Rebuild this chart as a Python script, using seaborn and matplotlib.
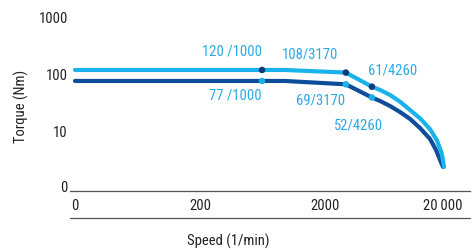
import numpy as np
import pandas as pd
import matplotlib
matplotlib.use("Agg")
import matplotlib.pyplot as plt
from matplotlib import font_manager
from matplotlib.lines import Line2D
from matplotlib.transforms import ScaledTranslation
import seaborn as sns

# ---------------- data ----------------
speed_upper = [20, 957, 2936, 4743, 5510, 6623, 7962, 9571, 11510, 13840, 15660, 17170, 17910]
torque_upper = [121, 121, 109, 61.8, 54.2, 44.3, 33.8, 24.2, 17.3, 11.2, 7.25, 4.25, 2.45]
speed_lower = [20, 957, 2936, 4743, 5510, 6623, 7962, 9571, 11510, 13840, 15450, 16640, 17580]
torque_lower = [77.8, 77.8, 68, 40, 34.8, 28.4, 22.3, 16.9, 11.7, 7.55, 4.85, 3.24, 2.45]

marker_speed = [627, 2936, 4743]
marker_torque_upper = [121, 109, 61.8]
marker_torque_lower = [77.8, 68, 40]

label_speed = [1000, 3170, 4260]
label_torque_upper = [120, 108, 61]
label_torque_lower = [77, 69, 52]

x_ticks = [20, 200, 2000, 20000]
x_ticklabels = ["0", "200", "2000", "20\u2009000"]
y_ticks = [1, 10, 100, 1000]
y_ticklabels = ["0", "10", "100", "1000"]

LIGHT = "#1ab2ea"
DARK = "#0d4d99"
DARK_MK = "#0a3a78"
TEXT_BLUE = "#29abe2"

# ---------------- fonts ----------------
sns.set_theme(style="white")
chosen = None
stretch = "normal"
cands = []
for f in font_manager.fontManager.ttflist:
    fn = f.fname.lower()
    if ("narrow" in fn or "condensed" in fn) and f.style == "normal" and f.weight in (400, "normal", "regular"):
        if "mono" in fn or "serif" in f.name.lower() and "sans" not in f.name.lower():
            continue
        cands.append(f)
pref = ["Liberation Sans Narrow", "Roboto Condensed", "Open Sans Condensed", "Noto Sans", "DejaVu Sans"]
for p in pref:
    for f in cands:
        if f.name == p:
            chosen = f
            break
    if chosen:
        break
if chosen is None and cands:
    chosen = cands[0]
if chosen is not None:
    plt.rcParams["font.family"] = [chosen.name, "DejaVu Sans"]
    plt.rcParams["font.stretch"] = chosen.stretch
    FS = 10.5
else:
    plt.rcParams["font.family"] = ["Roboto", "DejaVu Sans"]
    FS = 9.5

# ---------------- figure ----------------
W, H = 472, 250
fig = plt.figure(figsize=(W / 100, H / 100), dpi=100)
ax = fig.add_axes([70 / W, 1 - 191 / H, 400 / W, 186 / H])

df = pd.concat([
    pd.DataFrame({"speed": speed_lower, "torque": torque_lower, "series": "lower"}),
    pd.DataFrame({"speed": speed_upper, "torque": torque_upper, "series": "upper"}),
])
sns.lineplot(data=df, x="speed", y="torque", hue="series", sort=False,
             palette={"lower": DARK, "upper": LIGHT}, linewidth=3.0,
             legend=False, ax=ax, estimator=None)
for ln in ax.lines:
    ln.set_solid_capstyle("round")
    ln.set_solid_joinstyle("round")

mk = pd.concat([
    pd.DataFrame({"speed": marker_speed, "torque": marker_torque_upper, "series": "upper"}),
    pd.DataFrame({"speed": marker_speed, "torque": marker_torque_lower, "series": "lower"}),
])
sns.scatterplot(data=mk, x="speed", y="torque", hue="series",
                palette={"upper": DARK_MK, "lower": LIGHT}, s=22,
                linewidth=0, legend=False, ax=ax, zorder=5)

ax.set_xscale("log")
ax.set_yscale("log")
ax.set_xlim(18.24, 28900)
ax.set_ylim(0.93, 1652)

ax.set_xticks(x_ticks)
ax.set_xticklabels(x_ticklabels)
ax.set_yticks(y_ticks)
ax.set_yticklabels(y_ticklabels)
ax.minorticks_off()
ax.tick_params(axis="both", length=0, labelsize=FS, colors="#222222")
ax.tick_params(axis="x", pad=6)
ax.tick_params(axis="y", pad=1.5)
for lab in ax.get_xticklabels():
    if lab.get_text().startswith("20\u2009"):
        lab.set_transform(lab.get_transform() + ScaledTranslation(-7 / 100, 0, fig.dpi_scale_trans))
for lab in ax.get_yticklabels():
    if lab.get_text() == "0":
        lab.set_transform(lab.get_transform() + ScaledTranslation(0, 3 / 100, fig.dpi_scale_trans))

for s in ["top", "right", "left"]:
    ax.spines[s].set_visible(False)
ax.spines["bottom"].set_color("#555555")
ax.spines["bottom"].set_linewidth(0.9)
ax.add_line(Line2D([0, 1], [-27 / 186, -27 / 186], transform=ax.transAxes,
                   color="#555555", lw=0.9, clip_on=False))
ax.set_xlabel("")
ax.set_ylabel("")
ax.grid(False)

fig.text(21 / W, 1 - 106 / H, "Torque (Nm)", rotation=90, ha="center", va="center",
         fontsize=FS, color="#222222")
fig.text(228 / W, 1 - 241 / H, "Speed (1/min)", ha="center", va="center",
         fontsize=FS, color="#222222")

# annotations
offs_u = [(0, 18, "right"), (-8, 18.5, "right"), (-4, 16, "left")]
offs_l = [(0, -15, "right"), (-1, -16, "right"), (11, -28, "right")]
for i in range(3):
    sp = label_speed[i]
    sep = " /" if sp == 1000 else "/"
    dx, dy, ha = offs_u[i]
    ax.annotate(f"{label_torque_upper[i]}{sep}{sp}", xy=(marker_speed[i], marker_torque_upper[i]),
                xytext=(dx, dy), textcoords="offset pixels", ha=ha, va="center",
                fontsize=FS, color=TEXT_BLUE)
    dx, dy, ha = offs_l[i]
    ax.annotate(f"{label_torque_lower[i]}{sep}{sp}", xy=(marker_speed[i], marker_torque_lower[i]),
                xytext=(dx, dy), textcoords="offset pixels", ha=ha, va="center",
                fontsize=FS, color=TEXT_BLUE)

fig.savefig("out.png", dpi=100, facecolor="white")
